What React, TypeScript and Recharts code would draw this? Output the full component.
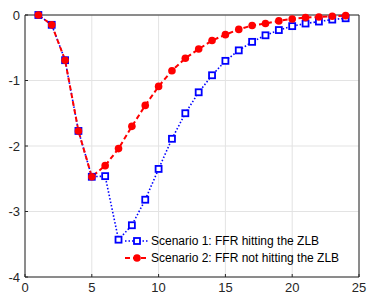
import { CartesianGrid, Line, LineChart, ReferenceLine, XAxis, YAxis } from "recharts";

const periods = [1, 2, 3, 4, 5, 6, 7, 8, 9, 10, 11, 12, 13, 14, 15, 16, 17, 18, 19, 20, 21, 22, 23, 24];
const zlbHit = [
  0, -0.15, -0.69, -1.77, -2.47, -2.46, -3.43, -3.21, -2.82, -2.35, -1.89, -1.5, -1.18, -0.92, -0.7, -0.54,
  -0.41, -0.31, -0.23, -0.17, -0.13, -0.1, -0.07, -0.05,
];
const zlbNotHit = [
  0, -0.15, -0.69, -1.77, -2.47, -2.3, -2.04, -1.7, -1.38, -1.09, -0.85, -0.66, -0.52, -0.39, -0.3, -0.22,
  -0.16, -0.13, -0.09, -0.06, -0.04, -0.03, -0.02, -0.01,
];
const xTicks = [0, 5, 10, 15, 20, 25];
const yTicks = [-4, -3, -2, -1, 0];
const labels = ["Scenario 1: FFR hitting the ZLB", "Scenario 2: FFR not hitting the ZLB"];

const data = periods.map((p, i) => ({ p, s1: zlbHit[i], s2: zlbNotHit[i] }));

const axisColor = "#262626";
const font = "Liberation Sans, Arial, sans-serif";
const tickStyle = { fill: axisColor, fontSize: 13, fontFamily: font };

function BlueSquare(props: any) {
  const { cx, cy } = props;
  if (cx == null || cy == null) return null;
  return <rect x={cx - 3} y={cy - 3} width={6} height={6} fill="#fff" stroke="#0000ff" strokeWidth={1.8} />;
}

function RedDot(props: any) {
  const { cx, cy } = props;
  if (cx == null || cy == null) return null;
  return <circle cx={cx} cy={cy} r={3.8} fill="#ff0000" />;
}

function LegendBox() {
  return (
    <svg width={225} height={38} style={{ display: "block" }}>
      <line x1={4} y1={10} x2={28} y2={10} stroke="#0000ff" strokeWidth={1.6} strokeDasharray="1.5 2" />
      <BlueSquare cx={16} cy={10} />
      <text x={30} y={14} fontSize={12} fill="#000" fontFamily={font}>
        {labels[0]}
      </text>
      <line x1={4} y1={27} x2={28} y2={27} stroke="#ff0000" strokeWidth={2} strokeDasharray="5 3" />
      <RedDot cx={16} cy={27} />
      <text x={30} y={31} fontSize={12} fill="#000" fontFamily={font}>
        {labels[1]}
      </text>
    </svg>
  );
}

export default function App() {
  return (
    <div style={{ position: "absolute", left: 0, top: 0, width: 367, height: 299, background: "#fff" }}>
      <LineChart width={367} height={299} data={data} margin={{ top: 15, right: 8, left: 0, bottom: 0 }}>
        <CartesianGrid stroke="#e3e3e3" strokeWidth={1} />
        <XAxis
          dataKey="p"
          type="number"
          domain={[0, 25]}
          ticks={xTicks}
          height={22}
          stroke={axisColor}
          tick={tickStyle}
          tickSize={-3}
          tickMargin={9}
          interval={0}
        />
        <XAxis
          xAxisId="top"
          dataKey="p"
          orientation="top"
          type="number"
          domain={[0, 25]}
          ticks={xTicks}
          height={0}
          stroke={axisColor}
          tick={false}
          tickSize={-3}
        />
        <YAxis
          domain={[-4, 0]}
          ticks={yTicks}
          width={25}
          stroke={axisColor}
          tick={tickStyle}
          tickSize={-3}
          tickMargin={8}
          interval={0}
        />
        <YAxis
          yAxisId="right"
          orientation="right"
          domain={[-4, 0]}
          ticks={yTicks}
          width={0}
          stroke={axisColor}
          tick={false}
          tickSize={-3}
        />
        <ReferenceLine y={0} stroke={axisColor} strokeWidth={1} />
        <ReferenceLine x={25} stroke={axisColor} strokeWidth={1} />
        <Line
          dataKey="s1"
          stroke="#0000ff"
          strokeWidth={1.6}
          strokeDasharray="1.5 2"
          dot={<BlueSquare />}
          isAnimationActive={false}
        />
        <Line
          dataKey="s2"
          stroke="#ff0000"
          strokeWidth={2}
          strokeDasharray="5 3"
          dot={<RedDot />}
          isAnimationActive={false}
        />
      </LineChart>
      <div style={{ position: "absolute", left: 121, top: 231 }}>
        <LegendBox />
      </div>
    </div>
  );
}
